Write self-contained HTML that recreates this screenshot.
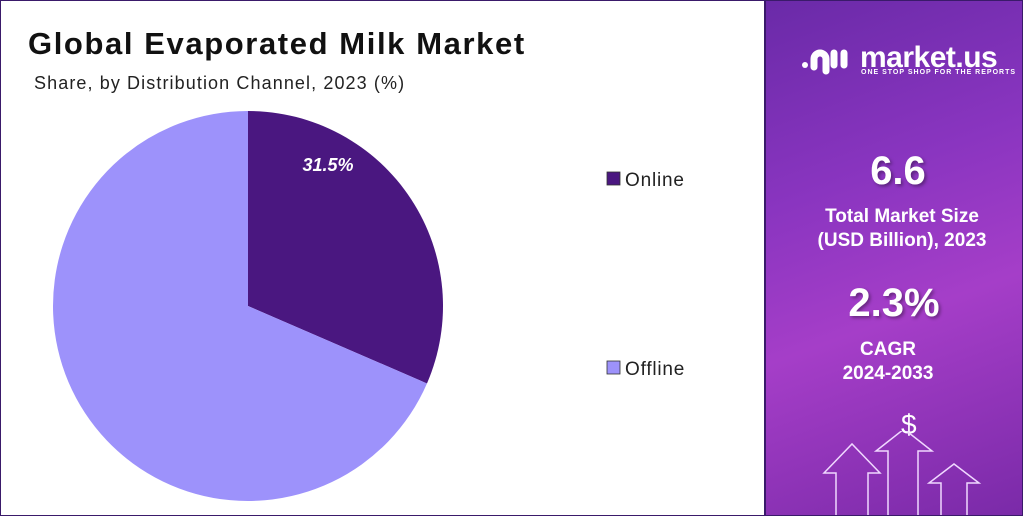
<!DOCTYPE html>
<html><head><meta charset="utf-8"><style>
body{margin:0;width:1023px;height:516px;overflow:hidden;font-family:"Liberation Sans",sans-serif;background:#fff}
.frame{position:absolute;left:0;top:0;width:1021px;height:514px;border:1px solid #3a1a6a}
.left{position:absolute;left:1px;top:1px;width:763px;height:514px;background:#fff;border-right:2px solid #3a1a6a}
.title{position:absolute;left:27px;top:25px;font-size:31px;font-weight:bold;color:#111;letter-spacing:1.6px}
.sub{position:absolute;left:33px;top:72px;font-size:18px;color:#222;letter-spacing:1.1px}
.right{position:absolute;left:766px;top:1px;width:256px;height:514px;background:linear-gradient(160deg,#6a2aa8 0%,#8a35c0 35%,#a53ec8 60%,#7a2aa8 100%);color:#fff;text-align:center}
.big{font-weight:bold;font-size:40px;position:absolute;width:100%;text-shadow:2px 2px 3px rgba(0,0,0,.35)}
.lab{font-weight:bold;font-size:19px;position:absolute;width:100%;line-height:24px}
</style></head><body>
<div class="frame"></div>
<div class="left">
<div class="title">Global Evaporated Milk Market</div>
<div class="sub">Share, by Distribution Channel, 2023 (%)</div>
<svg id="pie" width="763" height="514" style="position:absolute;left:0;top:0"></svg>
</div>
<div class="right">
<svg width="50" height="32" style="position:absolute;left:34px;top:42px" fill="none" stroke="#fff" stroke-width="7" stroke-linecap="round"><circle cx="5" cy="22" r="3" fill="#fff" stroke="none"/><path d="M14 24V16a6 6 0 0 1 12 0v12"/><path d="M34 10v12"/><path d="M44 10v12"/></svg>
<div style="position:absolute;left:94px;top:40px;font-size:30px;font-weight:bold;letter-spacing:-0.5px">market.us</div>
<div style="position:absolute;left:95px;top:68px;font-size:7px;font-weight:bold;letter-spacing:1px">ONE STOP SHOP FOR THE REPORTS</div>
<div class="big" style="top:148px;left:4px">6.6</div>
<div class="lab" style="top:204px;left:8px">Total Market Size<br>(USD Billion), 2023</div>
<div class="big" style="top:280px;left:0px">2.3%</div>
<div class="lab" style="top:337px;left:-6px">CAGR<br>2024-2033</div>
<div style="position:absolute;left:135px;top:408px;font-size:28px">$</div>
<svg width="256" height="100" style="position:absolute;left:0;top:430px" fill="none" stroke="#f0d8ff" stroke-width="1.5">
<path d="M70 84V42H58L86 13L114 42H102V84"/><path d="M122 84V20H110L138 -2L166 20H152V84"/><path d="M175 84V52H163L188 33L213 52H201V84"/>
</svg>
</div>
<script>
const categories=["Online","Offline"];
const values=[31.5,68.5];
const colors=["#4a1780","#9d92fb"];
const svg=document.getElementById('pie');
const NS="http://www.w3.org/2000/svg";
const cx=247,cy=305,r=195;
const total=values.reduce((a,b)=>a+b,0);
let a0=0;
values.forEach((v,i)=>{
  const a1=a0+v/total*2*Math.PI;
  const x0=cx+r*Math.sin(a0),y0=cy-r*Math.cos(a0),x1=cx+r*Math.sin(a1),y1=cy-r*Math.cos(a1);
  const p=document.createElementNS(NS,'path');
  p.setAttribute('d',`M${cx},${cy}L${x0},${y0}A${r},${r} 0 ${a1-a0>Math.PI?1:0} 1 ${x1},${y1}Z`);
  p.setAttribute('fill',colors[i]);
  
  
  svg.appendChild(p);
  if(i===0){
    const t=document.createElementNS(NS,'text');
    t.setAttribute('x',327);t.setAttribute('y',170);
    t.setAttribute('text-anchor','middle');t.setAttribute('fill','#fff');
    t.setAttribute('font-size','18');t.setAttribute('font-weight','bold');t.setAttribute('font-style','italic');
    t.setAttribute('font-family','Liberation Sans, sans-serif');
    t.textContent=v+'%';
    
    
    svg.appendChild(t);
  }
  a0=a1;
});
const ly=[178,367];
categories.forEach((c,i)=>{
  const g=document.createElementNS(NS,'g');
  
  
  const rc=document.createElementNS(NS,'rect');
  rc.setAttribute('x',606);rc.setAttribute('y',ly[i]-7);rc.setAttribute('width',13);rc.setAttribute('height',13);
  rc.setAttribute('fill',colors[i]);rc.setAttribute('stroke','#333');rc.setAttribute('stroke-width','0.8');
  const t=document.createElementNS(NS,'text');
  t.setAttribute('x',624);t.setAttribute('y',ly[i]+7);t.setAttribute('font-size','19');t.setAttribute('fill','#222');
  t.setAttribute('letter-spacing','0.8');
  t.setAttribute('font-family','Liberation Sans, sans-serif');
  t.textContent=c;
  g.appendChild(rc);g.appendChild(t);svg.appendChild(g);
});
</script>
</body></html>
